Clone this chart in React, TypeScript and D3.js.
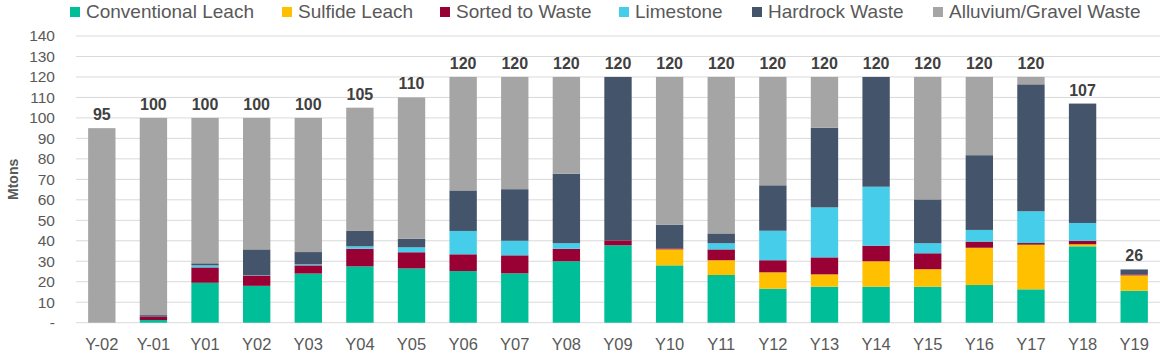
import React from 'react';
import * as d3 from 'd3';

const years = ['Y-02', 'Y-01', 'Y01', 'Y02', 'Y03', 'Y04', 'Y05', 'Y06', 'Y07', 'Y08', 'Y09', 'Y10', 'Y11', 'Y12', 'Y13', 'Y14', 'Y15', 'Y16', 'Y17', 'Y18', 'Y19'];

const conventionalLeach = [0, 1.3, 19.5, 18, 24, 27.5, 26.5, 25.2, 24.1, 30, 37.8, 28, 23.3, 16.6, 17.6, 17.6, 17.6, 18.4, 16.3, 37.3, 15.6];
const sulfideLeach = [0, 0, 0, 0, 0, 0, 0, 0, 0, 0, 0, 7.8, 7.2, 8, 6, 12.4, 8.5, 18.2, 21.8, 1, 7.5];
const sortedToWaste = [0, 1.6, 7.5, 5.1, 4, 8.6, 7.9, 8.2, 8.8, 6.1, 2.4, 0.5, 5.3, 5.9, 8.3, 7.6, 7.8, 3, 0.8, 1.7, 0.5];
const limestone = [0, 0, 1, 0.2, 0.5, 1.2, 2.4, 11.4, 7.1, 2.7, 0, 0, 3, 14.4, 24.4, 28.8, 4.9, 5.7, 15.5, 8.7, 0];
const hardrockWaste = [0, 0.8, 1, 12.5, 6, 7.5, 4.2, 19.8, 25.2, 34, 79.8, 11.6, 4.8, 22.2, 38.9, 53.6, 21.4, 36.5, 62, 58.3, 2.4];
const gravelWaste = [95, 96.3, 71, 64.2, 65.5, 60.2, 69, 55.4, 54.8, 47.2, 0, 72.1, 76.4, 52.9, 24.8, 0, 59.8, 38.2, 3.6, 0, 0];

const seriesNames = ['Conventional Leach', 'Sulfide Leach', 'Sorted to Waste', 'Limestone', 'Hardrock Waste', 'Alluvium/Gravel Waste'];
const seriesValues = [conventionalLeach, sulfideLeach, sortedToWaste, limestone, hardrockWaste, gravelWaste];
const seriesColors = ['#00BF98', '#FFC000', '#990033', '#45CDEA', '#44546A', '#A5A5A5'];

const yTicks = [0, 10, 20, 30, 40, 50, 60, 70, 80, 90, 100, 110, 120, 130, 140];

// legend marker x positions
const legendX = [70, 282, 440, 619, 752, 933];

const font = "'Liberation Sans', Arial, sans-serif";

export default function App() {
  const width = 1170;
  const height = 363;
  const plotLeft = 76;
  const plotRight = 1160;
  const plotTop = 36;
  const plotBottom = 322.7;

  const rows = years.map((y, i) => {
    const r: Record<string, any> = { year: y };
    seriesNames.forEach((n, s) => (r[n] = seriesValues[s][i]));
    return r;
  });

  const stacked = d3.stack<any>().keys(seriesNames)(rows);

  const x = d3.scaleBand().domain(years).range([plotLeft, plotRight]).paddingInner(0.47).paddingOuter(0.235);
  const y = d3.scaleLinear().domain([0, 140]).range([plotBottom, plotTop]);

  const totals = years.map((_, i) => d3.sum(seriesValues, (s) => s[i]));

  return (
    <svg width={width} height={height} style={{ position: 'absolute', left: 0, top: 0, background: '#fff' }}>
      {/* grid */}
      {yTicks.map((t) => (
        <line key={t} x1={plotLeft} x2={plotRight} y1={y(t)} y2={y(t)} stroke="#D9D9D9" strokeWidth={1} />
      ))}
      {yTicks.map((t) => (
        <text key={'l' + t} x={55} y={y(t)} dy="0.35em" textAnchor="end" fontFamily={font} fontSize={15.5} fill="#595959">
          {t === 0 ? '-' : t}
        </text>
      ))}
      <text
        transform={`translate(18,${(plotTop + plotBottom) / 2}) rotate(-90)`}
        textAnchor="middle"
        fontFamily={font}
        fontSize={14}
        fontWeight="bold"
        fill="#595959"
      >
        Mtons
      </text>

      {/* bars */}
      {stacked.map((layer, s) => (
        <g key={layer.key} fill={seriesColors[s]}>
          {layer.map((d, i) =>
            d[1] - d[0] > 0 ? (
              <rect
                key={i}
                x={x(years[i])}
                y={y(d[1])}
                width={x.bandwidth()}
                height={y(d[0]) - y(d[1])}
              />
            ) : null
          )}
        </g>
      ))}

      {/* totals */}
      {years.map((yr, i) => (
        <text
          key={'t' + yr}
          x={(x(yr) as number) + x.bandwidth() / 2}
          y={y(totals[i]) - 8}
          textAnchor="middle"
          fontFamily={font}
          fontSize={16}
          fontWeight="bold"
          fill="#404040"
        >
          {Math.round(totals[i])}
        </text>
      ))}

      {/* x labels */}
      {years.map((yr) => (
        <text
          key={'x' + yr}
          x={(x(yr) as number) + x.bandwidth() / 2}
          y={350}
          textAnchor="middle"
          fontFamily={font}
          fontSize={16.5}
          fill="#595959"
        >
          {yr}
        </text>
      ))}

      {/* legend */}
      {seriesNames.map((n, s) => (
        <g key={'lg' + n} transform={`translate(${legendX[s]},0)`}>
          <rect x={0} y={7} width={10} height={10} fill={seriesColors[s]} />
          <text x={16} y={17.5} fontFamily={font} fontSize={19} fill="#595959">
            {n}
          </text>
        </g>
      ))}
    </svg>
  );
}
